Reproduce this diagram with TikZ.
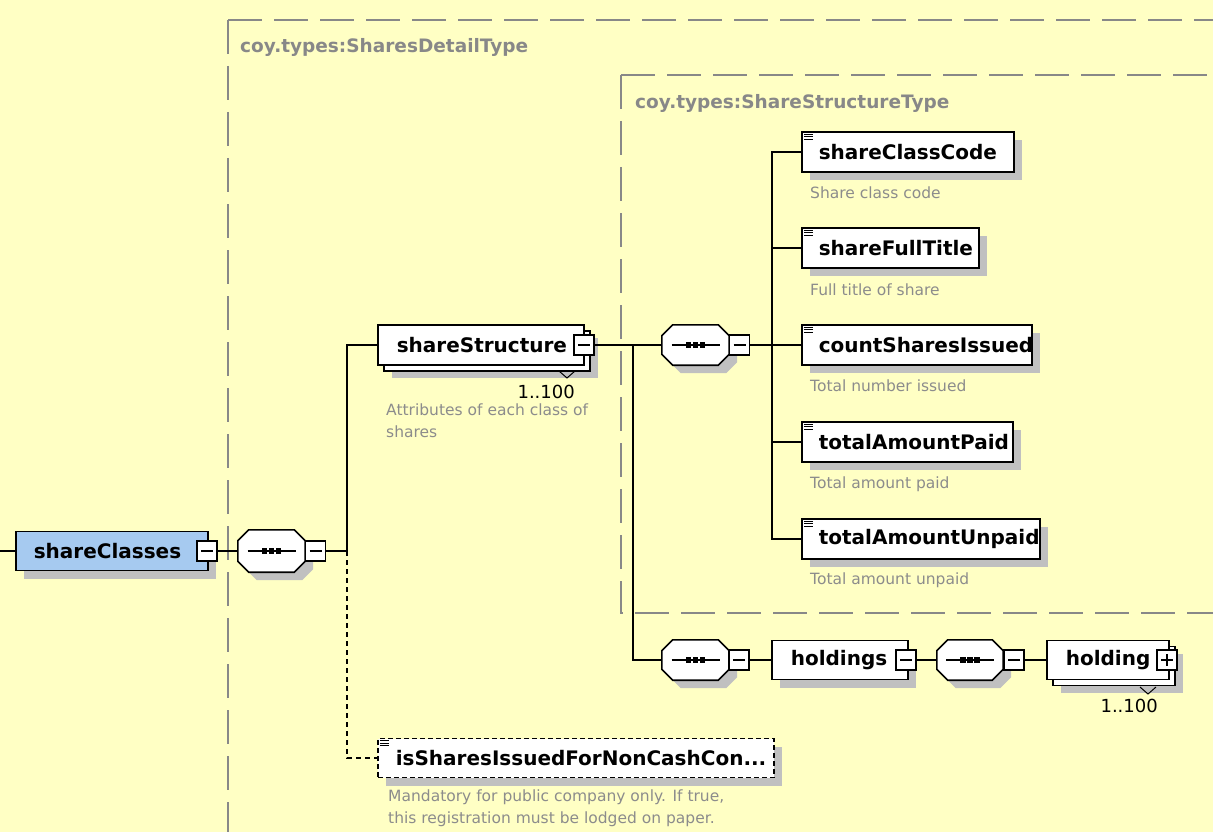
\documentclass[tikz,border=0pt]{standalone}
\usepackage{fontspec}
\newfontfamily\dv{DejaVu Sans}
\usetikzlibrary{shadows}
\definecolor{bg}{RGB}{255,255,196}
\definecolor{blu}{RGB}{166,202,240}
\definecolor{shd}{RGB}{192,192,192}
\definecolor{frm}{RGB}{136,136,136}
\definecolor{dsc}{RGB}{140,140,140}
\newcommand{\lb}[2]{\makebox[#1pt][l]{#2}}
\newcommand{\octpath}[1]{([xshift=11pt]#1.north west) -- ([xshift=-11pt]#1.north east) -- ([yshift=-11pt]#1.north east) -- ([yshift=11pt]#1.south east) -- ([xshift=-11pt]#1.south east) -- ([xshift=11pt]#1.south west) -- ([yshift=11pt]#1.south west) -- ([yshift=-11pt]#1.north west) -- cycle}
% name, cx, cy, w, h
\newcommand{\octa}[5]{%
  \node[anchor=center,draw=none,minimum width=#4pt,minimum height=#5pt,inner sep=0pt] (#1) at (#2,#3) {};
  \fill[shd,transform canvas={shift={(8pt,-8pt)}}] \octpath{#1};
  \filldraw[fill=white,draw=black,line width=1.6pt,line join=miter] \octpath{#1};
  \draw[line width=1.5pt] ([xshift=-24pt]#1.center) -- ([xshift=24pt]#1.center);
  \foreach \d in {-7,0,7}{\fill ([xshift=\d pt]#1.center) +(-2.7,-2.7) rectangle +(2.7,2.7);}}
\newcommand{\eicon}[1]{\foreach \d in {3,5.5,8}{\draw[line width=0.9pt] ([xshift=3pt,yshift=-\d pt]#1.north west) -- ++(9,0);}}
\begin{document}
\begin{tikzpicture}[x=1pt,y=-1pt,
  ln/.style={line width=1.5pt},
  sh/.style={drop shadow={shadow xshift=8pt,shadow yshift=-8pt,fill=shd,opacity=1}},
  msh/.style={drop shadow={shadow xshift=14pt,shadow yshift=-13pt,fill=shd,opacity=1},
     general shadow={shadow xshift=6pt,shadow yshift=-6pt,draw=black,fill=white,line width=1.6pt}},
  box/.style={draw=black,line width=1.6pt,fill=white,minimum height=40pt,inner ysep=0pt,inner xsep=17pt,anchor=west,font=\dv\fontsize{20}{22}\selectfont\bfseries},
  tog/.style={draw=black,line width=1.3pt,fill=white,minimum width=20pt,minimum height=20pt,inner sep=0pt},
  minus/.style={tog,path picture={\draw[line width=1.3pt] ([xshift=4pt]path picture bounding box.west) -- ([xshift=-4pt]path picture bounding box.east);}},
  plus/.style={tog,path picture={\draw[line width=1.3pt] ([xshift=4pt]path picture bounding box.west) -- ([xshift=-4pt]path picture bounding box.east);
     \draw[line width=1.3pt] ([yshift=-4pt]path picture bounding box.north) -- ([yshift=4pt]path picture bounding box.south);}},
  desc/.style={anchor=west,inner sep=0pt,text=dsc,font=\dv\fontsize{15.5}{22}\selectfont},
  mdesc/.style={anchor=north west,inner sep=0pt,text=dsc,align=left,font=\dv\fontsize{15.5}{22}\selectfont},
  card/.style={anchor=east,inner sep=0pt,font=\dv\fontsize{18}{20}\selectfont},
  tlabel/.style={anchor=west,inner sep=0pt,text=frm,font=\dv\fontsize{18.5}{20}\selectfont\bfseries},
  frame/.style={draw=frm,line width=1.7pt,dash pattern=on 34pt off 12pt},
  opt/.style={line width=1.5pt,dash pattern=on 5pt off 4pt},
  vee/.style={draw=black,line width=1pt}
]
\useasboundingbox (0,0) rectangle (1213,832);
\clip (0,0) rectangle (1213,832);
\fill[bg] (0,0) rectangle (1213,832);

% frames
\draw[frame] (228,20) -- (1300,20);
\draw[frame] (228,20) -- (228,900);
\draw[frame] (621,75) -- (1300,75);
\draw[frame] (621,75) -- (621,613) -- (1300,613);
\node[tlabel] (t1) at (240,47) {coy.types:SharesDetailType};
\node[tlabel] (t2) at (635,103) {coy.types:ShareStructureType};

% shareClasses
\coordinate (in0) at (0,551);
\node[box,fill=blu,sh,inner xsep=18pt,minimum height=39pt] (sc) at (15,551) {\lb{156}{shareClasses}};
\node[minus] (scm) at (207,551) {};
\octa{q1}{271.5}{551}{67}{42}
\node[minus] (q1m) at (315.5,551) {};
\coordinate (j1) at (347,551);

% shareStructure
\node[box,msh,inner xsep=19pt] (ss) at (377,345) {\lb{168}{shareStructure}};
\node[minus] (ssm) at (584,345) {};
\draw[vee] (559,371) -- (567,378) -- (575,371);
\node[card] (ssc) at (575,392) {1..100};
\node[mdesc] (ssd) at (386,404) {Attributes of each class of\\shares};

% isSharesIssued
\node[box,sh,dash pattern=on 5pt off 3pt,inner xsep=18pt,minimum height=39pt] (iss) at (377,758) {\lb{360}{isSharesIssuedForNonCashCon...}};
\eicon{iss}
\node[mdesc] (issd) at (388,790) {Mandatory for public company only. If true,\\this registration must be lodged on paper.};

% sequence 2
\coordinate (j2) at (633,345);
\octa{q2}{695.5}{345}{67}{40}
\node[minus] (q2m) at (739.5,345) {};
\coordinate (j3) at (772,345);

% elements
\node[box,sh] (e1) at (801,152) {\lb{178}{shareClassCode}};
\node[box,sh] (e2) at (801,248) {\lb{143}{shareFullTitle}};
\node[box,sh] (e3) at (801,345) {\lb{196}{countSharesIssued}};
\node[box,sh] (e4) at (801,442) {\lb{177}{totalAmountPaid}};
\node[box,sh] (e5) at (801,539) {\lb{204}{totalAmountUnpaid}};
\foreach \e in {e1,e2,e3,e4,e5}{\eicon{\e}}
\node[desc] (d1) at (810,193) {Share class code};
\node[desc] (d2) at (810,290) {Full title of share};
\node[desc] (d3) at (810,386) {Total number issued};
\node[desc] (d4) at (810,484) {Total amount paid};
\node[desc] (d5) at (810,580) {Total amount unpaid};

% holdings row
\octa{q3}{695.5}{660}{67}{40}
\node[minus] (q3m) at (739,660) {};
\node[box,sh,inner xsep=19pt,minimum height=39pt] (hd) at (771,660) {\lb{98}{holdings}};
\node[minus] (hdm) at (906,660) {};
\octa{q4}{970}{660}{66}{40}
\node[minus] (q4m) at (1014,660) {};
\node[box,msh,inner xsep=19pt,minimum height=39pt] (hg) at (1046,660) {\lb{84}{holding}};
\node[plus] (hgp) at (1167,660) {};
\draw[vee] (1140,687) -- (1148,694) -- (1156,687);
\node[card] (hgc) at (1158,706) {1..100};

% connectors
\draw[ln] (in0) -- (sc.west);
\draw[ln] (scm.east) -- (q1.west);
\draw[ln] (q1m.east) -- (j1) |- (ss.west);
\draw[opt] (j1) |- (iss.west);
\draw[ln] (ssm.east) -- (q2.west);
\draw[ln] (j2) |- (q3.west);
\draw[ln] (q2m.east) -- (j3);
\draw[ln] (e1.west) -| (j3) |- (e5.west);
\draw[ln] (j3) -- (e3.west);
\draw[ln] (j3 |- e2.west) -- (e2.west);
\draw[ln] (j3 |- e4.west) -- (e4.west);
\draw[ln] (q3m.east) -- (hd.west);
\draw[ln] (hdm.east) -- (q4.west);
\draw[ln] (q4m.east) -- (hg.west);
\end{tikzpicture}
\end{document}
